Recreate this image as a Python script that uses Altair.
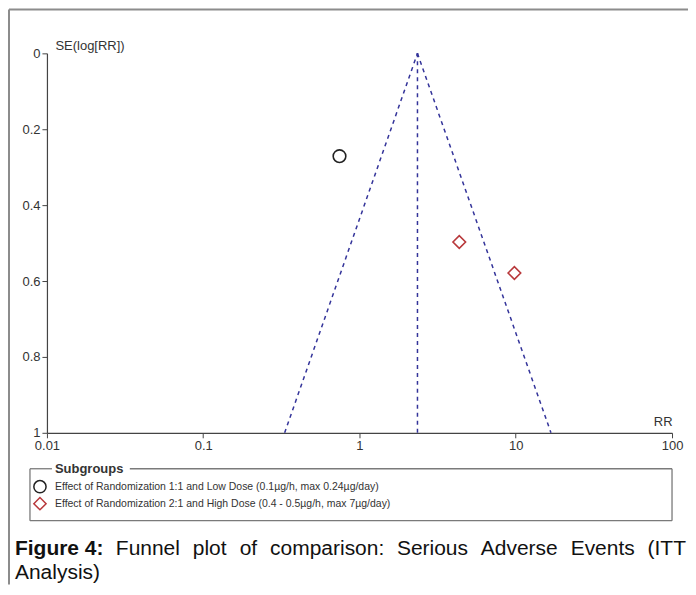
import altair as alt
import pandas as pd

# ---- data ----
subgroups = [
    "Effect of Randomization 1:1 and Low Dose (0.1µg/h, max 0.24µg/day)",
    "Effect of Randomization 2:1 and High Dose (0.4 - 0.5µg/h, max 7µg/day)",
]
study_rr = [0.745, 4.35, 9.8]
study_se = [0.271, 0.497, 0.579]
study_group = [subgroups[0], subgroups[1], subgroups[1]]

pooled_rr = 2.35
funnel_se = [0.0, 1.0]
funnel_lower_rr = [2.35, 0.332]
funnel_upper_rr = [2.35, 16.8]

x_ticks = [0.01, 0.1, 1, 10, 100]
y_ticks = [0, 0.2, 0.4, 0.6, 0.8, 1]

caption_words = ["Figure 4:", "Funnel", "plot", "of", "comparison:", "Serious", "Adverse", "Events", "(ITT"]
caption_line2 = "Analysis)"

FONT = "Liberation Sans, Arial, Helvetica, sans-serif"

W, H = 626, 380
OX, OY = 47, 53  # page position of plot origin (for decoration layout)

points = pd.DataFrame({"rr": study_rr, "se": study_se, "group": study_group})

funnel = pd.DataFrame({
    "rr": funnel_lower_rr + funnel_upper_rr + [pooled_rr, pooled_rr],
    "se": funnel_se + funnel_se + funnel_se,
    "line": ["lower"] * 2 + ["upper"] * 2 + ["pooled"] * 2,
})

xscale = alt.Scale(type="log", domain=[0.01, 100])
yscale = alt.Scale(domain=[0, 1], reverse=True)

xaxis = alt.Axis(values=x_ticks, format="~g", grid=False, title="RR",
                 titleAnchor="end", titleAlign="right", titleX=W, titleY=-4,
                 titleBaseline="bottom", titleFontWeight="normal", titleFontSize=13,
                 titleFont=FONT, titleColor="#333",
                 labelFont=FONT, labelFontSize=13, labelColor="#333", labelPadding=2,
                 tickSize=5, tickColor="#444", domainColor="#444", domainWidth=1.2,
                 labelFlush=False)
yaxis = alt.Axis(values=y_ticks, format="~g", grid=False, title="SE(log[RR])",
                 titleAngle=0, titleAlign="left", titleBaseline="middle",
                 titleX=8, titleY=-8, titleFontWeight="normal", titleFontSize=13,
                 titleFont=FONT, titleColor="#333",
                 labelFont=FONT, labelFontSize=13, labelColor="#333", labelPadding=2,
                 tickSize=5, tickColor="#444", domainColor="#444", domainWidth=1.2,
                 labelFlush=False)

funnel_layer = alt.Chart(funnel).mark_line(
    color="#34349a", strokeDash=[4, 4], strokeWidth=1.5
).encode(
    x=alt.X("rr:Q", scale=xscale, axis=xaxis),
    y=alt.Y("se:Q", scale=yscale, axis=yaxis),
    detail="line:N",
)

legend = alt.Legend(orient="none", legendX=-14, legendY=427, title=None,
                    labelFont=FONT, labelFontSize=10.5, labelColor="#333",
                    symbolSize=150, symbolStrokeWidth=1.5, labelOffset=8,
                    rowPadding=-3, padding=0, labelLimit=600)

point_layer = alt.Chart(points).mark_point(filled=False, strokeWidth=1.6, size=160, opacity=1).encode(
    x=alt.X("rr:Q", scale=xscale),
    y=alt.Y("se:Q", scale=yscale),
    color=alt.Color("group:N", scale=alt.Scale(domain=subgroups, range=["#222222", "#b8383b"]), legend=legend),
    shape=alt.Shape("group:N", scale=alt.Scale(domain=subgroups, range=["circle", "diamond"]), legend=legend),
)

# ---- decorations: frame, legend box, caption ----
rules = pd.DataFrame([
    # outer frame (top and left)
    {"x": 1 - 39, "x2": 689 - OX, "y": 8 - OY + 1, "y2": 8 - OY + 1, "c": "frame"},
    {"x": 1 - 39, "x2": 1 - 39, "y": 8 - OY + 1, "y2": 585 - OY, "c": "frame"},
    # legend box
    {"x": 30 - OX, "x2": 52 - OX, "y": 469 - OY, "y2": 469 - OY, "c": "box"},
    {"x": 130 - OX, "x2": 673 - OX, "y": 469 - OY, "y2": 469 - OY, "c": "box"},
    {"x": 30 - OX, "x2": 673 - OX, "y": 521 - OY, "y2": 521 - OY, "c": "box"},
    {"x": 30 - OX, "x2": 30 - OX, "y": 469 - OY, "y2": 521 - OY, "c": "box"},
    {"x": 673 - OX, "x2": 673 - OX, "y": 469 - OY, "y2": 521 - OY, "c": "box"},
])

frame_layer = alt.Chart(rules[rules.c == "frame"]).mark_rule(color="#8c8c8c", strokeWidth=2).encode(
    x=alt.X("x:Q", scale=None), x2="x2:Q", y=alt.Y("y:Q", scale=None), y2="y2:Q")
box_layer = alt.Chart(rules[rules.c == "box"]).mark_rule(color="#7a7a7a", strokeWidth=1.3).encode(
    x=alt.X("x:Q", scale=None), x2="x2:Q", y=alt.Y("y:Q", scale=None), y2="y2:Q")

legend_title = alt.Chart(pd.DataFrame({"t": ["Subgroups"], "x": [55 - OX], "y": [469 - OY]})).mark_text(
    align="left", baseline="middle", font=FONT, fontSize=13, fontWeight="bold", color="#333"
).encode(x=alt.X("x:Q", scale=None), y=alt.Y("y:Q", scale=None), text="t:N")

cap_x = [15, 116, 193, 240, 270.5, 397.5, 481.5, 571.5, 648.5]
cap = pd.DataFrame({
    "t": caption_words + [caption_line2],
    "x": [v - OX for v in cap_x] + [15 - OX],
    "y": [555 - OY] * len(caption_words) + [579 - OY],
    "b": ["bold"] + ["normal"] * (len(caption_words) - 1) + ["normal"],
})
cap_bold = alt.Chart(cap[cap.b == "bold"]).mark_text(
    align="left", baseline="alphabetic", font=FONT, fontSize=21, fontWeight="bold", color="#111"
).encode(x=alt.X("x:Q", scale=None), y=alt.Y("y:Q", scale=None), text="t:N")
cap_reg = alt.Chart(cap[cap.b == "normal"]).mark_text(
    align="left", baseline="alphabetic", font=FONT, fontSize=21, color="#111"
).encode(x=alt.X("x:Q", scale=None), y=alt.Y("y:Q", scale=None), text="t:N")

chart = alt.layer(
    funnel_layer, point_layer, frame_layer, box_layer, legend_title, cap_bold, cap_reg
).resolve_scale(x="shared", y="shared").properties(
    width=W, height=H,
    autosize=alt.AutoSizeParams(type="none"),
    padding={"left": 39, "top": 45, "right": 16, "bottom": 152},
    background="white",
).configure_view(strokeWidth=0)

chart.save("out.html", embed_options={"renderer": "svg", "actions": False})
